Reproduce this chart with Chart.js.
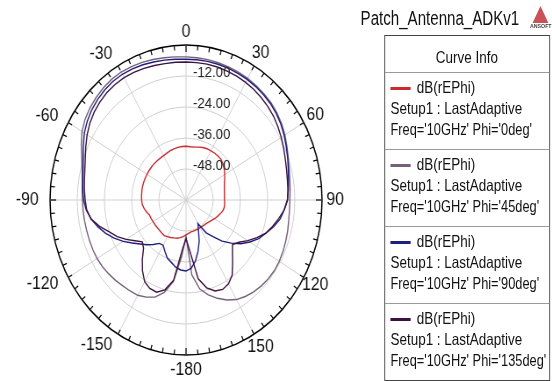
<!DOCTYPE html>
<html>
<head>
<meta charset="utf-8">
<script src="https://cdn.jsdelivr.net/npm/chart.js@4.4.0/dist/chart.umd.min.js"></script>
<style>
html,body{margin:0;padding:0;background:#fff;overflow:hidden;width:552px;height:381px;}
#wrap{position:absolute;left:0;top:0;width:629px;height:381px;transform:scaleX(0.8774);transform-origin:0 0;font-family:"Liberation Sans",Arial,sans-serif;color:#111;}
#chartBox{position:absolute;left:0;top:0;width:425px;height:400px;}
#title{position:absolute;left:411px;top:7px;font-size:20px;white-space:nowrap;transform:scaleX(0.86);transform-origin:0 0;}
#logo{position:absolute;left:604px;top:6px;width:24px;height:26px;}
#legend{position:absolute;left:438px;top:35px;width:187px;height:344px;border:1px solid #444;background:#fff;}
.head{height:36px;line-height:42px;text-align:center;font-size:16.5px;border-bottom:1px solid #999;}
.entry{position:relative;height:76px;border-bottom:1px solid #999;font-size:16.5px;}
.entry:last-child{border-bottom:none;}
.entry .sw{position:absolute;left:6px;top:14px;width:23px;height:3px;}
.entry .t{position:absolute;white-space:nowrap;transform:scaleX(0.93);transform-origin:0 0;}
.entry .f{transform:scaleX(0.885);}
</style>
</head>
<body>
<div id="wrap">
  <div id="chartBox"><canvas id="polar"></canvas></div>
  <div id="title">Patch_Antenna_ADKv1</div>
  <div id="logo"></div>
  <div id="legend"></div>
</div>
<script>
// angles 0..175 then -180..-5, 5 degree steps
var angleLabels = [];
for (var i = 0; i < 72; i++) {
    var a = i * 5;
    angleLabels.push(String(a < 180 ? a : a - 360));
}

var seriesNames = ["dB(rEPhi)", "dB(rEPhi)", "dB(rEPhi)", "dB(rEPhi)"];
var seriesSetup = "Setup1 : LastAdaptive";
var seriesPhi = ["Freq='10GHz' Phi='0deg'", "Freq='10GHz' Phi='45deg'", "Freq='10GHz' Phi='90deg'", "Freq='10GHz' Phi='135deg'"];
var seriesColors = ["#cc2a2e", "#76607a", "#1e1e7c", "#3c1240"];

// dB values, same order as angleLabels (0..175, -180..-5)
var phi0 = [
    -39.2, -39.3, -39.2, -38.8, -38.4, -38.1, -38.0, -37.9, -37.9, -38.0, -38.6, -39.4,
    -40.3, -41.2, -42.0, -42.5, -42.8, -43.0, -43.0, -42.9, -42.9, -43.3, -44.1, -44.8,
    -45.5, -46.2, -46.8, -47.2, -47.4, -47.5, -47.6, -47.6, -47.6, -47.5, -47.5, -47.0,
    -46.5, -45.8, -45.2, -44.7, -44.4, -44.0, -43.6, -43.2, -43.3, -43.4, -43.4, -43.3,
    -43.2, -43.0, -42.9, -42.0, -41.2, -40.6, -40.4, -40.3, -40.2, -40.1, -40.1, -40.1,
    -40.1, -40.1, -40.1, -40.1, -40.2, -40.2, -40.2, -40.0, -39.7, -39.5, -39.3, -39.2
];
var phi45 = [
    -4.6, -4.7, -4.8, -5.0, -5.2, -5.4, -5.6, -6.0, -6.4, -6.9, -7.6, -8.5,
    -9.6, -10.9, -12.0, -12.9, -13.5, -13.9, -14.2, -14.2, -14.0, -13.6, -13.2, -12.8,
    -12.5, -12.4, -12.6, -13.0, -13.6, -14.4, -15.5, -17.3, -19.5, -22.0, -25.0, -31.0,
    -46.0, -38.0, -28.0, -23.0, -20.0, -18.5, -17.4, -17.0, -16.6, -16.0, -15.5, -15.0,
    -14.7, -14.6, -14.6, -14.6, -14.5, -14.4, -14.3, -14.0, -13.5, -12.5, -11.0, -9.0,
    -7.0, -5.6, -4.6, -3.9, -3.3, -2.9, -2.8, -3.0, -3.3, -3.7, -4.1, -4.4
];
var phi90 = [
    -5.5, -5.5, -5.5, -5.6, -5.7, -5.9, -6.1, -6.4, -6.8, -7.3, -8.0, -8.9,
    -10.0, -11.2, -12.3, -13.3, -14.1, -14.7, -15.3, -16.5, -17.8, -20.0, -22.5, -24.6,
    -27.5, -30.5, -34.0, -37.5, -41.5, -44.5, -49.5, -47.0, -43.0, -39.5, -36.0, -33.5,
    -32.5, -32.8, -33.6, -35.0, -36.0, -38.0, -39.8, -39.5, -37.5, -35.5, -33.5, -31.0,
    -28.0, -25.0, -22.3, -19.8, -17.5, -15.8, -14.8, -14.3, -13.8, -13.0, -11.7, -10.0,
    -8.2, -6.8, -5.7, -4.9, -4.3, -3.9, -3.8, -4.0, -4.3, -4.7, -5.0, -5.3
];
var phi135 = [
    -6.6, -6.6, -6.6, -6.7, -6.9, -7.1, -7.4, -7.8, -8.3, -8.9, -9.6, -10.5,
    -11.5, -12.5, -13.4, -14.1, -14.6, -14.9, -15.2, -16.5, -18.5, -20.5, -22.5, -25.5,
    -28.5, -31.5, -33.2, -31.0, -28.0, -24.5, -22.5, -21.8, -22.5, -24.8, -29.0, -40.0,
    -45.0, -40.5, -28.5, -24.0, -22.0, -22.2, -23.5, -26.5, -30.0, -33.5, -34.8, -32.5,
    -29.5, -26.5, -24.0, -20.5, -17.5, -16.0, -15.5, -15.0, -14.5, -13.8, -12.7, -11.2,
    -9.6, -8.2, -7.1, -6.3, -5.7, -5.4, -5.3, -5.5, -5.8, -6.1, -6.4, -6.5
];
var rMin = -60, rMax = 0, rStep = 12;

/*图例*/
var legend = document.getElementById("legend");
var html = '<div class="head"><span style="display:inline-block;transform:scaleX(0.93)">Curve Info</span></div>';
for (var i = 0; i < seriesPhi.length; i++) {
    html += '<div class="entry">' +
        '<div class="sw" style="background:' + seriesColors[i] + '"></div>' +
        '<div class="t" style="left:36px;top:5px">' + seriesNames[i] + '</div>' +
        '<div class="t" style="left:6px;top:26px">' + seriesSetup + '</div>' +
        '<div class="t f" style="left:6px;top:47px">' + seriesPhi[i] + '</div>' +
        '</div>';
}
legend.innerHTML = html;

/*ANSOFT小标*/
var logo = document.getElementById("logo");
logo.innerHTML = '<div style="width:0;height:0;margin-left:3px;border-left:9px solid transparent;border-right:9px solid transparent;border-bottom:17px solid #c9525a;"></div>' +
    '<div style="font-size:6px;font-weight:bold;color:#444;line-height:7px;">ANSOFT</div>';

/*角度文字、刻度环文字、外圈小刻度*/
var polarDeco = {
    id: 'polarDeco',
    afterDraw: function(chart) {
        var sc = chart.scales.r;
        var ctx = chart.ctx;
        var R = sc.drawingArea;
        ctx.save();
        // outer ring ticks
        ctx.strokeStyle = "#000";
        ctx.lineWidth = 1.2;
        for (var i = 0; i < angleLabels.length; i++) {
            var len = (i % 18 === 0) ? 7 : 5;
            var p1 = sc.getPointPosition(i, R);
            var p2 = sc.getPointPosition(i, R - len);
            ctx.beginPath();
            ctx.moveTo(p1.x, p1.y);
            ctx.lineTo(p2.x, p2.y);
            ctx.stroke();
        }
        // angle labels every 30 deg
        ctx.fillStyle = "#111";
        ctx.font = "18px 'Liberation Sans', Arial";
        ctx.textBaseline = "middle";
        for (var i = 0; i < angleLabels.length; i++) {
            var deg = i * 5;
            if (deg % 30 !== 0) continue;
            var p;
            if (deg === 0) { p = sc.getPointPosition(i, R + 13); ctx.textAlign = "center"; }
            else if (deg === 180) { p = sc.getPointPosition(i, R + 15); ctx.textAlign = "center"; }
            else if (deg < 180) { p = sc.getPointPosition(i, R + 15); ctx.textAlign = "center"; }
            else { p = sc.getPointPosition(i, R + 13); ctx.textAlign = "right"; }
            ctx.fillText(angleLabels[i], p.x, p.y);
        }
        // ring labels
        ctx.fillStyle = "#222";
        ctx.font = "15px 'Liberation Sans', Arial";
        ctx.textAlign = "left";
        sc.ticks.forEach(function(t) {
            if (t.value <= rMin || t.value >= rMax) return;
            var d = sc.getDistanceFromCenterForValue(t.value);
            ctx.fillText(t.value.toFixed(2), sc.xCenter + 8, sc.yCenter - d - 3);
        });
        ctx.restore();
    }
};

var ctx = document.getElementById("polar").getContext('2d');
var datasets = [phi0, phi45, phi90, phi135].map(function(d, i) {
    return {
        label: seriesPhi[i],
        data: d,
        borderColor: seriesColors[i],
        borderWidth: 1.4,
        backgroundColor: 'transparent',
        fill: false,
        pointRadius: 0,
        tension: 0
    };
});
datasets.reverse();

var myChart = new Chart(ctx, {
    type: 'radar',
    data: { labels: angleLabels, datasets: datasets },
    options: {
        responsive: true,
        maintainAspectRatio: false,
        animation: false,
        layout: { padding: 45 },
        plugins: { legend: { display: false }, tooltip: { enabled: false } },
        scales: {
            r: {
                min: rMin,
                max: rMax,
                ticks: { stepSize: rStep, display: false },
                grid: {
                    circular: true,
                    color: function(c) { return c.tick && c.tick.value === rMax ? '#000' : '#cfcfcf'; },
                    lineWidth: function(c) { return c.tick && c.tick.value === rMax ? 1.5 : 1; }
                },
                angleLines: {
                    color: function(c) { return c.index % 6 === 0 ? '#cfcfcf' : 'rgba(0,0,0,0)'; }
                },
                pointLabels: { display: false }
            }
        }
    },
    plugins: [polarDeco]
});
</script>
</body>
</html>
